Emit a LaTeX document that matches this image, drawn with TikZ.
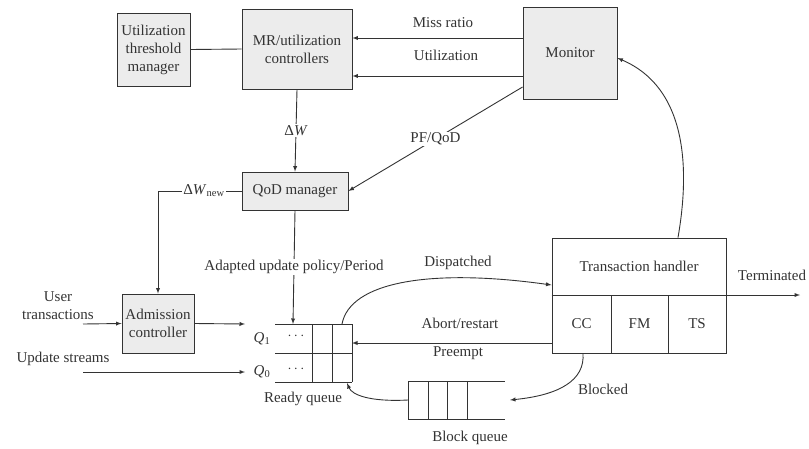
\documentclass[tikz,border=0pt]{standalone}
\usepackage{fontspec}
\setmainfont{Liberation Serif}
\usetikzlibrary{positioning}
\tikzset{box/.style={draw, fill=gray!15, align=center, inner sep=1pt},
         frame/.style={draw, inner sep=0pt},
         lbl/.style={align=center, inner sep=1pt},
         cut/.style={lbl, fill=white},
         arr/.style={-latex}}
\begin{document}
\begin{tikzpicture}[x=1pt,y=-1pt,line width=0.9pt,color=black!80,font=\fontsize{15}{18}\selectfont]
          \useasboundingbox (0,0) rectangle (809,448);
          % control boxes
          \node (utm) [box, minimum width=73, minimum height=73] at (153.5,49.5) {Utilization\\threshold\\manager};
          \node (mrc) [box, minimum width=110, minimum height=80] at (297,49) {MR/utilization\\controllers};
          \node (mon) [box, minimum width=94, minimum height=92] at (570,53) {Monitor};
          \node (qod) [box, minimum width=106, minimum height=38] at (295,191) {QoD manager};
          \node (adm) [box, minimum width=72, minimum height=59] at (158,323.5) {Admission\\controller};
          \draw (utm.east) -- (mrc.west);
          \draw [arr] (mon.west |- 0,38) -- (mrc.east |- 0,38);
          \draw (443,23) node [lbl] (mr) {Miss ratio};
          \draw [arr] (mon.west |- 0,76) -- (mrc.east |- 0,76);
          \draw (446,55) node [lbl] (ut) {Utilization};
          \draw [arr] (mrc.south) -- node [cut] (dw) {Δ\textit{W}} (qod.north);
          \draw [arr] (mon.west |- 0,87) -- node [cut] (pf) {PF/QoD} (qod.east);
          \draw [arr] (qod.west) -- node [cut, pos=0.45] (dwn) {Δ\textit{W}\textsubscript{new}} (qod.west -| adm.north) -- (adm.north);
          % inputs
          \draw (58,306) node [lbl] (usr) {User\\transactions};
          \draw (63,359) node [lbl] (ups) {Update streams};
          \coordinate (usrin) at (83,324);
          \coordinate (upsin) at (83,372);
          \coordinate (q1in) at (245,324);
          \coordinate (q0in) at (245,372);
          \draw [arr] (usrin) -- (adm.west);
          \draw [arr] (adm.east) -- (q1in);
          \draw [arr] (upsin) -- (q0in);
          % ready queue
          \draw (275,324) -- (352,324);
          \draw (275,353) -- (352,353);
          \draw (275,382) -- (352,382);
          \draw (312,324) -- (312,382);
          \draw (332,324) -- (332,382);
          \draw (352,324) -- (352,382);
          \draw (262,339) node [lbl] (q1) {\textit{Q}\textsubscript{1}};
          \draw (262,372) node [lbl] (q0) {\textit{Q}\textsubscript{0}};
          \draw (296,336) node [lbl] (d1) {$\cdots$};
          \draw (296,369) node [lbl] (d0) {$\cdots$};
          \draw (303,399) node [lbl] (rql) {Ready queue};
          \coordinate (rqtop) at (293,324);
          \coordinate (rqout) at (342,324);
          \coordinate (rqin) at (352,343);
          \coordinate (rqback) at (347,383);
          \draw [arr] (qod.south) -- node [cut] (apl) {Adapted update policy/Period} (rqtop);
          % transaction handler
          \node (th) [frame, minimum width=174, minimum height=115] at (639,295.5) {};
          \draw (th.west |- 0,295) -- (th.east |- 0,295);
          \draw (611,295) -- (611,353);
          \draw (668,295) -- (668,353);
          \draw (639,266) node [lbl] (thl) {Transaction handler};
          \draw (581.5,324) node [lbl] (cc) {CC};
          \draw (639.5,324) node [lbl] (fm) {FM};
          \draw (697,324) node [lbl] (ts) {TS};
          \coordinate (thout) at (800,295);
          \draw [arr] (th.east |- 0,295) -- (thout);
          \draw (772,275) node [lbl] (trm) {Terminated};
          \draw [arr] (rqout) .. controls (350,282) and (430,268) .. (th.west |- 0,285);
          \draw (458,263) node [lbl] (dsp) {Dispatched};
          \draw [arr] (th.north -| 678,0) .. controls (688,180) and (692,90) .. (mon.east |- 0,58);
          \draw (460,323) node [lbl] (abr) {Abort/restart};
          \draw [arr] (th.west |- 0,343) -- (rqin);
          \draw (458,353) node [lbl] (pre) {Preempt};
          % block queue
          \draw (408,381) -- (505,381);
          \draw (408,419) -- (505,419);
          \draw (408,381) -- (408,419);
          \draw (428,381) -- (428,419);
          \draw (447,381) -- (447,419);
          \draw (467,381) -- (467,419);
          \draw (470,438) node [lbl] (bql) {Block queue};
          \coordinate (bqin) at (510,400);
          \coordinate (bqout) at (408,400);
          \draw [arr] (th.south -| 583,0) .. controls (585,380) and (560,395) .. (bqin);
          \draw (603,389) node [lbl] (blk) {Blocked};
          \draw [arr] (bqout) .. controls (370,402) and (352,395) .. (rqback);
\end{tikzpicture}
\end{document}
